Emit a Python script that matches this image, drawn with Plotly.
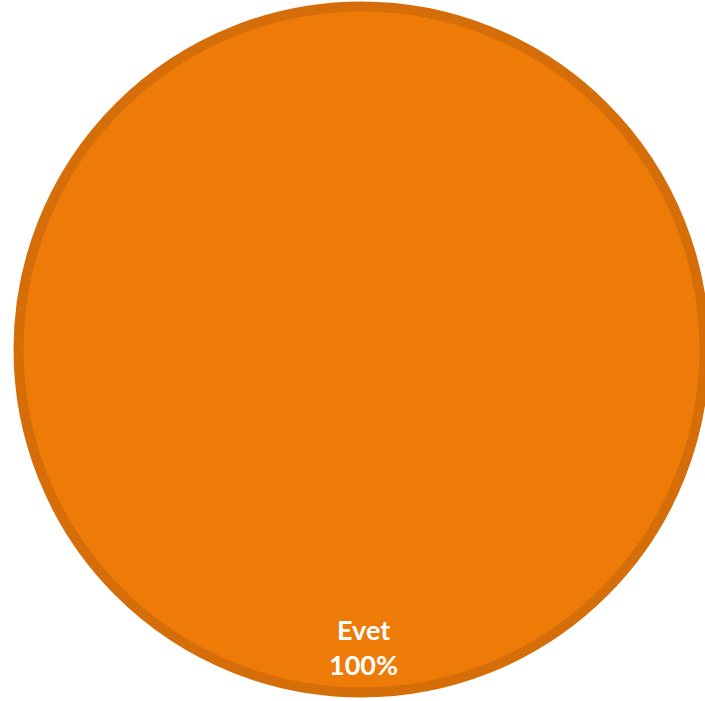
import plotly.graph_objects as go

labels = ['Evet']
values = [100]

FILL = '#EE7A07'
EDGE = '#D56D08'

W, H = 705, 701
cx, cy, r = 361.5, 349.5, 343

fig = go.Figure()

fig.add_trace(go.Pie(
    labels=labels,
    values=values,
    marker=dict(colors=[FILL], line=dict(color=EDGE, width=10)),
    textinfo='none',
    sort=False,
    showlegend=False,
    domain=dict(x=[(cx - r) / W, min(1, (cx + r) / W)],
                y=[(H - cy - r) / H, (H - cy + r) / H])
))

# slice label sits near the bottom of the circle, Excel-style
total = sum(values)
pct = '{:.0f}%'.format(values[0] / total * 100)
for txt, ypix in [(labels[0], 629), (pct, 664)]:
    fig.add_annotation(
        x=363 / W, y=1 - ypix / H, xref='paper', yref='paper',
        text='<b>' + txt + '</b>', showarrow=False,
        font=dict(family='Lato', size=27, color='white'),
        xanchor='center', yanchor='middle'
    )

fig.update_layout(
    width=W, height=H,
    margin=dict(l=0, r=0, t=0, b=0),
    paper_bgcolor='white',
    plot_bgcolor='white'
)

# drop the default page margin so the figure sits flush in the window
fig.write_html('out.html', config={'displayModeBar': False},
               post_script="document.body.style.margin='0';document.body.style.overflow='hidden';")
